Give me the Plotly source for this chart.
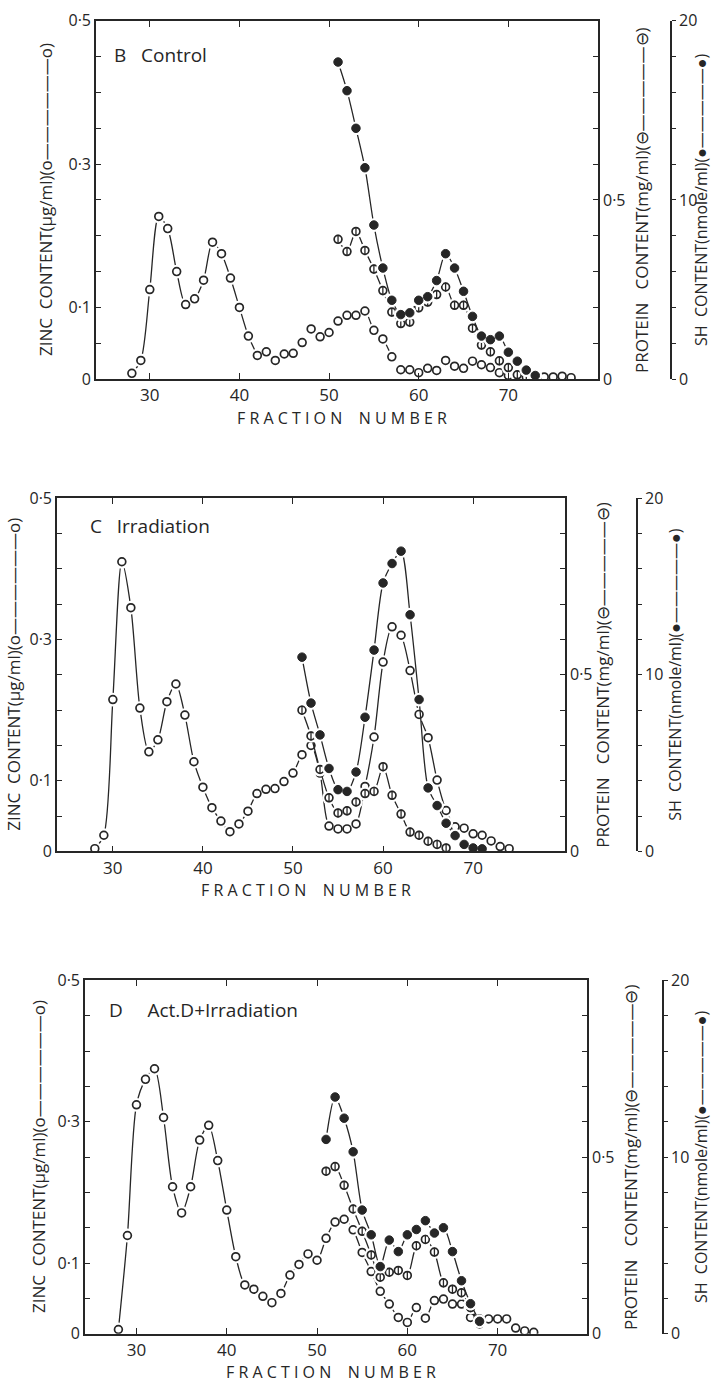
import plotly.graph_objects as go

# ---------------- DATA ----------------
# Panel B (Control)
b_zinc_frac = [28, 29, 30, 31, 32, 33, 34, 35, 36, 37, 38, 39, 40, 41, 42, 43, 44, 45, 46, 47, 48, 49, 50, 51, 52,
               53, 54, 55, 56, 57, 58, 59, 60, 61, 62, 63, 64, 65, 66, 67, 68, 69, 70, 71, 72, 73, 74, 75, 76, 77]
b_zinc = [0.008, 0.026, 0.125, 0.227, 0.21, 0.15, 0.104, 0.112, 0.138, 0.191, 0.175, 0.141, 0.1, 0.06, 0.033,
          0.038, 0.026, 0.035, 0.036, 0.051, 0.07, 0.059, 0.065, 0.081, 0.089, 0.089, 0.095, 0.068, 0.056, 0.031,
          0.013, 0.013, 0.009, 0.015, 0.012, 0.026, 0.018, 0.015, 0.025, 0.02, 0.016, 0.009, 0.005, 0.003, 0.003,
          0.003, 0.003, 0.003, 0.004, 0.002]
b_prot_frac = [51, 52, 53, 54, 55, 56, 57, 58, 59, 60, 61, 62, 63, 64, 65, 66, 67, 68, 69, 70, 71, 72]
b_prot = [0.39, 0.356, 0.412, 0.359, 0.307, 0.247, 0.187, 0.155, 0.159, 0.199, 0.215, 0.236, 0.257, 0.206, 0.206,
          0.142, 0.095, 0.076, 0.051, 0.032, 0.012, 0.006]
b_sh_frac = [51, 52, 53, 54, 55, 56, 57, 58, 59, 60, 61, 62, 63, 64, 65, 66, 67, 68, 69, 70, 71, 72, 73]
b_sh = [17.7, 16.1, 14.0, 11.8, 8.6, 6.2, 4.4, 3.6, 3.7, 4.4, 4.6, 5.5, 7.0, 6.2, 4.9, 3.5, 2.4, 2.2, 2.4, 1.5,
        1.0, 0.5, 0.2]

# Panel C (Irradiation)
c_zinc_frac = [28, 29, 30, 31, 32, 33, 34, 35, 36, 37, 38, 39, 40, 41, 42, 43, 44, 45, 46, 47, 48, 49, 50, 51, 52,
               53, 54, 55, 56, 57, 58, 59, 60, 61, 62, 63, 64, 65, 66, 67, 68, 69, 70, 71, 72, 73, 74]
c_zinc = [0.004, 0.023, 0.215, 0.41, 0.345, 0.203, 0.141, 0.158, 0.212, 0.237, 0.193, 0.127, 0.091, 0.062, 0.043,
          0.028, 0.039, 0.057, 0.082, 0.088, 0.089, 0.099, 0.111, 0.137, 0.15, 0.111, 0.036, 0.032, 0.032, 0.039,
          0.092, 0.162, 0.268, 0.318, 0.306, 0.256, 0.194, 0.161, 0.101, 0.058, 0.035, 0.033, 0.025, 0.023, 0.015,
          0.007, 0.004]
c_prot_frac = [51, 52, 53, 54, 55, 56, 57, 58, 59, 60, 61, 62, 63, 64, 65, 66, 67]
c_prot = [0.40, 0.327, 0.232, 0.152, 0.109, 0.115, 0.14, 0.164, 0.17, 0.24, 0.159, 0.106, 0.055, 0.046, 0.029,
          0.02, 0.01]
c_sh_frac = [51, 52, 53, 54, 55, 56, 57, 58, 59, 60, 61, 62, 63, 64, 65, 66, 67, 68, 69, 70, 71]
c_sh = [11.0, 8.4, 6.6, 4.7, 3.5, 3.4, 4.5, 7.6, 11.4, 15.2, 16.3, 17.0, 13.4, 8.6, 3.6, 2.6, 1.6, 0.9, 0.4, 0.2,
        0.15]

# Panel D (Act.D + Irradiation)
d_zinc_frac = [28, 29, 30, 31, 32, 33, 34, 35, 36, 37, 38, 39, 40, 41, 42, 43, 44, 45, 46, 47, 48, 49, 50, 51, 52,
               53, 54, 55, 56, 57, 58, 59, 60, 61, 62, 63, 64, 65, 66, 67, 68, 69, 70, 71, 72, 73, 74]
d_zinc = [0.006, 0.139, 0.324, 0.36, 0.375, 0.306, 0.208, 0.171, 0.208, 0.274, 0.295, 0.245, 0.175, 0.109, 0.069,
          0.063, 0.053, 0.044, 0.057, 0.083, 0.098, 0.113, 0.104, 0.135, 0.158, 0.162, 0.147, 0.115, 0.088, 0.06,
          0.042, 0.023, 0.016, 0.037, 0.022, 0.047, 0.049, 0.042, 0.042, 0.023, 0.021, 0.021, 0.021, 0.021, 0.008,
          0.004, 0.002]
d_prot_frac = [51, 52, 53, 54, 55, 56, 57, 58, 59, 60, 61, 62, 63, 64, 65, 66, 67, 68]
d_prot = [0.46, 0.473, 0.42, 0.353, 0.29, 0.223, 0.16, 0.174, 0.179, 0.165, 0.249, 0.267, 0.231, 0.144, 0.126,
          0.116, 0.074, 0.028]
d_sh_frac = [51, 52, 53, 54, 55, 56, 57, 58, 59, 60, 61, 62, 63, 64, 65, 66, 67, 68]
d_sh = [11.0, 13.4, 12.2, 10.3, 7.0, 5.6, 3.8, 5.3, 4.65, 5.6, 5.9, 6.4, 5.7, 6.0, 4.65, 3.0, 1.7, 0.7]

panel_labels = ["B   Control", "C   Irradiation", "D     Act.D+Irradiation"]
x_ticks = [30, 40, 50, 60, 70]
zinc_ticks = [0, 0.05, 0.1, 0.15, 0.2, 0.25, 0.3, 0.35, 0.4, 0.45, 0.5]
zinc_labels = ["0", "", "0·1", "", "", "", "0·3", "", "", "", "0·5"]
prot_ticks = [0, 0.1, 0.2, 0.3, 0.4, 0.5, 0.6, 0.7, 0.8, 0.9, 1.0]
prot_labels = ["0", "", "", "", "", "0·5", "", "", "", "", ""]
sh_ticks = [0, 2, 4, 6, 8, 10, 12, 14, 16, 18, 20]
sh_labels = ["0", "", "", "", "", "10", "", "", "", "", "20"]

# fraction ranges where the original leaves neighbouring zinc points of panel B unjoined
b_zinc_unjoined = [(42, 51), (57, 77)]

# ---------------- LAYOUT (pixel geometry) ----------------
W, H = 716, 1390
INK = "#262626"
FONT = "Open Sans"


def fx(p):
    return p / W


def fy(p):
    return 1 - p / H


def joined(fr, vals, unjoined):
    xs, ys = [], []
    for k, (f, v) in enumerate(zip(fr, vals)):
        if k > 0 and any(a <= fr[k - 1] and f <= b for a, b in unjoined):
            xs.append(None)
            ys.append(None)
        xs.append(f)
        ys.append(v)
    return xs, ys


geo = [
    dict(L=96, R=598, T=10, B=374, xr=[24.0, 80.0], sh=671, zt=46, pt=642, st=701, lab=(112, 45), xt=342),
    dict(L=57, R=565, T=495, B=854, xr=[23.8, 80.2], sh=637, zt=14, pt=603, st=675, lab=(88, 523), xt=306),
    dict(L=85, R=587, T=985, B=1344, xr=[24.3, 79.9], sh=663, zt=38, pt=630, st=701, lab=(107, 1015), xt=331),
]

data_sets = [
    (b_zinc_frac, b_zinc, b_prot_frac, b_prot, b_sh_frac, b_sh, b_zinc_unjoined),
    (c_zinc_frac, c_zinc, c_prot_frac, c_prot, c_sh_frac, c_sh, []),
    (d_zinc_frac, d_zinc, d_prot_frac, d_prot, d_sh_frac, d_sh, []),
]

fig = go.Figure()
layout = dict(width=W, height=H, margin=dict(l=0, r=0, t=0, b=0), paper_bgcolor="white",
              plot_bgcolor="white", showlegend=False, font=dict(family=FONT, color=INK, size=16))
annotations = []

line_style = dict(shape="spline", smoothing=0.8, color=INK, width=1.3)
MS = 7.8

for i, (g, ds) in enumerate(zip(geo, data_sets)):
    xn = "x" if i == 0 else f"x{i + 1}"
    yz = "y" if i == 0 else f"y{4 * i + 1}"
    yp = f"y{4 * i + 2}"
    ys = f"y{4 * i + 3}"
    zf, zv, pf, pv, sf, sv, zgap = ds
    series = [(sf, sv, ys, []), (pf, pv, yp, []), (zf, zv, yz, zgap)]

    # curves
    for f, v, ya, gaps in series:
        lx, ly = joined(f, v, gaps)
        fig.add_trace(go.Scatter(x=lx, y=ly, xaxis=xn, yaxis=ya, mode="lines", line=line_style,
                                 connectgaps=False, hoverinfo="skip"))
    # white halos that break the curves next to each point, as in the hand-drawn original
    for f, v, ya, gaps in series:
        fig.add_trace(go.Scatter(x=f, y=v, xaxis=xn, yaxis=ya, mode="markers", hoverinfo="skip",
                                 marker=dict(symbol="circle", size=MS + 6, color="white", line=dict(width=0))))
    # symbols
    fig.add_trace(go.Scatter(x=sf, y=sv, xaxis=xn, yaxis=ys, mode="markers",
                             marker=dict(symbol="circle", size=MS + 0.7, color=INK, line=dict(color=INK, width=1))))
    fig.add_trace(go.Scatter(x=pf, y=pv, xaxis=xn, yaxis=yp, mode="markers",
                             marker=dict(symbol="circle", size=MS, color="white", line=dict(color=INK, width=1.7))))
    fig.add_trace(go.Scatter(x=pf, y=pv, xaxis=xn, yaxis=yp, mode="markers",
                             marker=dict(symbol="line-ns", size=6.5, line=dict(color=INK, width=1.3))))
    fig.add_trace(go.Scatter(x=zf, y=zv, xaxis=xn, yaxis=yz, mode="markers",
                             marker=dict(symbol="circle", size=MS, color="white", line=dict(color=INK, width=1.7))))

    xkey = "xaxis" if i == 0 else f"xaxis{i + 1}"
    zkey = "yaxis" if i == 0 else f"yaxis{4 * i + 1}"
    pkey = f"yaxis{4 * i + 2}"
    skey = f"yaxis{4 * i + 3}"
    skey2 = f"yaxis{4 * i + 4}"
    common = dict(showgrid=False, zeroline=False, linecolor=INK, linewidth=1.6, tickcolor=INK,
                  tickfont=dict(family=FONT, size=16, color=INK))
    layout[xkey] = dict(common, domain=[fx(g["L"]), fx(g["R"])], range=g["xr"], anchor=yz,
                        tickvals=x_ticks, ticks="inside", ticklen=6, tickwidth=1.3, showline=True, mirror="ticks",
                        tickfont=dict(family=FONT, size=17, color=INK))
    layout[zkey] = dict(common, domain=[fy(g["B"]), fy(g["T"])], range=[0, 0.5], anchor=xn, side="left",
                        tickvals=zinc_ticks, ticktext=zinc_labels, ticks="inside", ticklen=5, tickwidth=1.2,
                        showline=True)
    layout[pkey] = dict(common, range=[0, 1.0], anchor=xn, overlaying=yz, side="right",
                        tickvals=prot_ticks, ticktext=prot_labels, ticks="inside", ticklen=5, tickwidth=1.2,
                        showline=True)
    layout[skey] = dict(common, range=[0, 20], anchor="free", position=fx(g["sh"]), overlaying=yz,
                        side="right", tickvals=sh_ticks, ticktext=sh_labels, ticks="outside", ticklen=4,
                        tickwidth=1.2, showline=True)
    # second set of SH ticks so they cross the axis line, as drawn in the original
    layout[skey2] = dict(common, range=[0, 20], anchor="free", position=fx(g["sh"]), overlaying=yz,
                         side="right", tickvals=sh_ticks, ticks="inside", ticklen=4, tickwidth=1.2,
                         showline=False, showticklabels=False)

    ymid = fy((g["T"] + g["B"]) / 2)
    annotations.append(dict(text=panel_labels[i], x=fx(g["lab"][0]), y=fy(g["lab"][1]), xref="paper",
                            yref="paper", xanchor="left", yanchor="middle", showarrow=False,
                            font=dict(family=FONT, size=19, color=INK)))
    annotations.append(dict(text="F R A C T I O N    N U M B E R", x=fx(g["xt"]), y=fy(g["B"] + 26),
                            xref="paper", yref="paper", xanchor="center", yanchor="top", showarrow=False,
                            font=dict(family=FONT, size=16, color=INK)))
    annotations.append(dict(text="ZINC  CONTENT(μg/ml)(o——————o)", x=fx(g["zt"]), y=ymid, xref="paper",
                            yref="paper", textangle=-90, showarrow=False, xanchor="center", yanchor="middle",
                            font=dict(family=FONT, size=17, color=INK)))
    annotations.append(dict(text="PROTEIN   CONTENT(mg/ml)(⊖—————⊖)", x=fx(g["pt"]), y=ymid, xref="paper",
                            yref="paper", textangle=-90, showarrow=False, xanchor="center", yanchor="middle",
                            font=dict(family=FONT, size=17, color=INK)))
    annotations.append(dict(text="SH  CONTENT(nmole/ml)(●—————●)", x=fx(g["st"]), y=ymid, xref="paper",
                            yref="paper", textangle=-90, showarrow=False, xanchor="center", yanchor="middle",
                            font=dict(family=FONT, size=16, color=INK)))

layout["annotations"] = annotations
fig.update_layout(**layout)
fig.write_html("out.html", config={"displayModeBar": False},
               post_script="document.body.style.margin='0';document.body.style.overflow='hidden';")
